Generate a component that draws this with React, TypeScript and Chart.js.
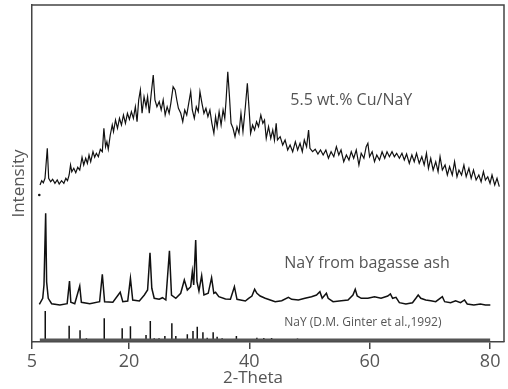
import React, { useEffect, useRef } from "react";
import { Chart, registerables } from "chart.js";

Chart.register(...registerables);

// ---- axis ----
const X_MIN = 3.9;
const X_MAX = 82.3;
const Y_MIN = 0;
const Y_MAX = 337;
const TICK_VALUES = [3.9, 20, 40, 60, 80];
const TICK_LABELS = ["5", "20", "40", "60", "80"];
const X_TITLE = "2-Theta";
const Y_TITLE = "Intensity";

// ---- 5.5 wt.% Cu/NaY (2-theta, intensity) ----
const cuTheta = [5.23,5.51,5.78,6.06,6.44,6.67,7.0,7.33,7.71,8.09,8.42,8.81,9.19,9.52,9.8,10.07,10.3,10.51,10.84,11.17,11.5,11.83,12.21,12.49,12.82,13.1,13.37,13.65,14.03,14.31,14.59,14.92,15.25,15.58,15.84,16.12,16.34,16.57,16.9,17.23,17.44,17.77,18.1,18.43,18.76,19.09,19.42,19.75,20.08,20.41,20.74,21.07,21.35,21.62,21.9,22.18,22.51,22.84,23.1,23.38,23.71,24.04,24.32,24.65,25.03,25.36,25.69,26.02,26.35,26.68,26.96,27.34,27.67,27.95,28.22,28.61,28.94,29.27,29.6,29.93,30.26,30.53,30.86,31.19,31.52,31.8,32.13,32.46,32.79,33.12,33.45,33.78,34.11,34.39,34.65,34.98,35.31,35.64,35.92,36.14,36.42,36.7,36.96,37.29,37.62,37.95,38.28,38.61,38.94,39.34,39.67,39.93,40.21,40.54,40.87,41.2,41.53,41.91,42.24,42.52,42.81,43.19,43.56,43.89,44.17,44.46,44.67,45.12,45.54,45.94,46.37,46.77,47.2,47.64,48.02,48.42,48.8,49.13,49.51,49.84,50.07,50.5,50.94,51.39,51.82,52.26,52.71,53.14,53.58,54.03,54.46,54.86,55.23,55.68,56.12,56.55,56.93,57.33,57.76,58.2,58.58,59.03,59.41,59.69,59.97,60.4,60.79,61.17,61.62,62.05,62.49,62.87,63.27,63.7,64.09,64.47,64.92,65.35,65.74,66.12,66.57,67.0,67.39,67.77,68.22,68.65,69.04,69.42,69.75,70.13,70.53,70.96,71.35,71.68,72.06,72.51,72.89,73.26,73.71,74.09,74.49,74.82,75.25,75.64,76.02,76.47,76.85,77.23,77.67,78.12,78.5,78.88,79.21,79.6,79.98,80.31,80.76,81.14,81.52];
const cuIntensity = [157,161.3,159.3,163.7,193.7,163.7,160.3,162.7,158.7,162,158,161.3,158.7,163.7,161.3,167,177,170.3,173.7,169.3,174.7,172,184.7,177,183.7,178.7,187,180.3,190.3,184.7,188.7,185.3,192.7,190.3,213.7,195.3,200.3,192.7,207,217,210.3,222,213.7,223.7,217,227,218.7,228.7,222.7,230.3,223.7,235.3,220.3,242,252,228.7,245.3,235.3,245.3,228.7,248.7,267,242,235.3,240.3,232,242,227,235.3,228.7,238.7,255.3,252,242,233.7,228.7,220.3,232,227,238.7,250.3,232,223.7,235.3,230.3,250.3,238.7,228.7,233.7,225.3,232,218.7,208.7,225.3,215.3,230.3,217,232,223.7,242,270.3,245.3,218.7,213.7,205.3,215.3,208.7,228.7,210.3,235.3,258.7,235.3,208.7,217,212,220.3,215.3,227,218.7,222,203.7,215.3,203.7,212,202,218.7,202,205.3,197,202,192,197,190.3,200.3,192,198.7,190.3,202,195.3,212,193.7,190.3,192.7,188,192,187,192,183.7,190.3,185.3,195.3,187,192,180.3,187,182,190.3,183.7,192,177,188.7,183.7,195.3,198.7,185.3,190.3,180.3,187,182,190.3,183.7,190.3,185.3,190.3,185.3,188.7,183.7,188.7,182,188,178.7,187,180.3,188.7,178.7,185.3,177,188.7,173.7,183.7,172,180.3,170.3,185.3,172,177,167,175.3,167,180.3,165.3,172,167,177,165.3,173.7,163.7,172,162,167,160.3,170.3,162,165.3,158.7,167,157,163.7,155.3];

// ---- NaY from bagasse ash ----
const nayTheta = [5.12,5.68,5.89,6.17,6.33,6.6,7.16,8.53,9.74,10.13,10.35,11.0,11.83,12.1,13.5,15.13,15.58,15.96,17.33,18.55,18.98,19.8,20.25,20.63,21.73,22.56,23.1,23.5,23.8,24.2,25.03,25.58,26.13,26.73,27.07,27.79,28.6,29.2,29.7,30.26,30.53,30.76,31.09,31.3,31.63,32.08,32.46,33.17,33.73,34.1,34.39,34.93,36.04,36.86,37.52,37.95,39.34,39.88,40.43,40.88,41.26,41.8,42.64,43.47,44.29,45.38,46.49,47.03,48.14,49.24,50.33,51.16,51.72,52.1,52.8,53.09,53.91,55.28,56.39,57.21,57.59,57.92,58.58,59.69,60.79,61.88,62.99,63.43,63.8,64.36,64.92,66.0,67.1,67.66,68.05,68.48,69.3,70.13,70.96,71.68,72.06,72.44,73.43,74.26,75.08,75.74,76.19,77.29,78.38,79.21,80.03];
const nayIntensity = [37.7,43.7,57,128.7,60,43.7,38.3,37,38.3,61,39.7,38.3,56,39.7,38.3,40.3,67.7,40.3,39.7,49.7,40.3,41,63.7,42,41,47,52,89.3,53.7,43.7,42.7,44.3,42,91.3,47,43.7,48.7,62,52,55.3,70.3,57,102,60.3,51,66.3,47,48.7,64.3,48.7,49.7,45.3,43,42.7,55.3,42.7,41,43.7,46,52.7,48.7,46,43.7,42,40.3,41.3,44.7,42.7,42,43.7,45.3,47,50.3,43.7,48.7,43.7,40.3,41.3,42,47,52.7,46,43.7,43.7,45.3,43.7,46,48,43.7,44.7,39.3,38,39.3,43.7,47,43.7,42,41.3,40.3,43.7,45.3,40.3,39.3,41.3,39.3,42,38,37,38,37,37];

// ---- NaY reference stick pattern (D.M. Ginter et al., 1992) ----
const stickTheta = [6.1,10.07,11.88,12.94,15.9,18.88,20.25,22.84,23.55,24.2,25.0,25.97,27.13,27.79,29.7,30.64,31.35,32.29,33.0,33.99,34.65,35.48,37.85,41.25,42.4,43.7,48.0];
const stickIntensity = [31,16.3,11.7,3.7,23.7,13.7,15.7,7,21,3.7,3.7,6,18.7,6,7.7,11,15.3,9.7,4.3,9.7,5.3,3.7,6,4.3,4,4,3.5];
const stickBase = 2;
const stickBaseRange = [5.2, 80];

// stray dot present in the original figure
const dotTheta = [5.11];
const dotIntensity = [147];

// ---- annotation texts ----
const annotationTexts = ["5.5 wt.% Cu/NaY", "NaY from bagasse ash", "NaY (D.M. Ginter et al.,1992)"];
const annotationTheta = [46.8, 45.8, 45.8];
const annotationIntensity = [242, 79, 19];
const annotationSizes = [16, 16, 12];

const FONT = "'Open Sans', 'Noto Sans', sans-serif";
const TEXT_COLOR = "#555";
const AXIS_COLOR = "#444";

export default function App() {
  const ref = useRef<HTMLCanvasElement | null>(null);

  useEffect(() => {
    const canvas = ref.current;
    if (!canvas) return;

    const cuData = cuTheta.map((x, i) => ({ x, y: cuIntensity[i] }));
    const nayData = nayTheta.map((x, i) => ({ x, y: nayIntensity[i] }));
    const stickData: { x: number; y: number | null }[] = [];
    stickTheta.forEach((x, i) => {
      stickData.push({ x, y: stickBase });
      stickData.push({ x, y: stickIntensity[i] });
      stickData.push({ x, y: null });
    });
    const baseData = stickBaseRange.map((x) => ({ x, y: stickBase }));
    const dotData = dotTheta.map((x, i) => ({ x, y: dotIntensity[i] }));

    const framePlugin = {
      id: "frame",
      afterDraw(chart: any) {
        const { ctx, chartArea } = chart;
        ctx.save();
        ctx.strokeStyle = AXIS_COLOR;
        ctx.lineWidth = 1.5;
        ctx.beginPath();
        ctx.moveTo(chartArea.left, chartArea.top);
        ctx.lineTo(chartArea.right, chartArea.top);
        ctx.lineTo(chartArea.right, chartArea.bottom);
        ctx.stroke();
        ctx.restore();
      },
    };

    const textPlugin = {
      id: "texts",
      afterDraw(chart: any) {
        const { ctx, chartArea } = chart;
        const xs = chart.scales.x;
        const ys = chart.scales.y;
        ctx.save();
        ctx.fillStyle = TEXT_COLOR;
        ctx.textBaseline = "middle";
        ctx.textAlign = "left";
        annotationTexts.forEach((t, i) => {
          ctx.font = `${annotationSizes[i]}px ${FONT}`;
          ctx.fillText(t, xs.getPixelForValue(annotationTheta[i]), ys.getPixelForValue(annotationIntensity[i]));
        });
        // x title
        ctx.font = `17px ${FONT}`;
        ctx.textAlign = "center";
        ctx.fillText(X_TITLE, (chartArea.left + chartArea.right) / 2 - 15, chartArea.bottom + 36);
        // y title
        ctx.translate(19, (chartArea.top + chartArea.bottom) / 2 + 10);
        ctx.rotate(-Math.PI / 2);
        ctx.fillText(Y_TITLE, 0, 0);
        ctx.restore();
      },
    };

    const chart = new Chart(canvas, {
      type: "line",
      data: {
        datasets: [
          {
            data: cuData,
            borderColor: "#111",
            borderWidth: 1.2,
            pointRadius: 0,
            tension: 0,
          },
          {
            data: nayData,
            borderColor: "#111",
            borderWidth: 1.5,
            pointRadius: 0,
            tension: 0,
          },
          {
            data: baseData,
            borderColor: "#555",
            borderWidth: 3,
            pointRadius: 0,
          },
          {
            data: stickData,
            borderColor: "#111",
            borderWidth: 1.5,
            pointRadius: 0,
            spanGaps: false,
          },
          {
            data: dotData,
            showLine: false,
            pointRadius: 1.3,
            pointBackgroundColor: "#111",
            pointBorderWidth: 0,
          },
        ] as any,
      },
      options: {
        animation: false,
        responsive: false,
        maintainAspectRatio: false,
        layout: { padding: { top: 5, right: 1, left: 0, bottom: 0 } },
        plugins: {
          legend: { display: false },
          tooltip: { enabled: false },
        },
        scales: {
          x: {
            type: "linear",
            min: X_MIN,
            max: X_MAX,
            afterBuildTicks: (scale: any) => {
              scale.ticks = TICK_VALUES.map((v) => ({ value: v }));
            },
            afterFit: (scale: any) => {
              scale.height = 47;
            },
            grid: {
              display: true,
              drawOnChartArea: false,
              drawTicks: true,
              tickLength: 7,
              color: AXIS_COLOR,
              lineWidth: 1.5,
            },
            border: { display: true, color: AXIS_COLOR, width: 1.5 },
            ticks: {
              autoSkip: false,
              maxRotation: 0,
              padding: 2,
              color: TEXT_COLOR,
              font: { size: 18, family: FONT },
              callback: (_v: any, i: number) => TICK_LABELS[i],
            },
          },
          y: {
            type: "linear",
            min: Y_MIN,
            max: Y_MAX,
            afterFit: (scale: any) => {
              scale.width = 32;
            },
            grid: { display: false },
            border: { display: true, color: AXIS_COLOR, width: 1.5 },
            ticks: { display: false },
          },
        },
      } as any,
      plugins: [framePlugin, textPlugin],
    });

    return () => chart.destroy();
  }, []);

  return (
    <div style={{ position: "fixed", left: 0, top: 0, width: 508, height: 389, background: "#fff" }}>
      <canvas ref={ref} width={508} height={389} style={{ width: 508, height: 389, display: "block" }} />
    </div>
  );
}
